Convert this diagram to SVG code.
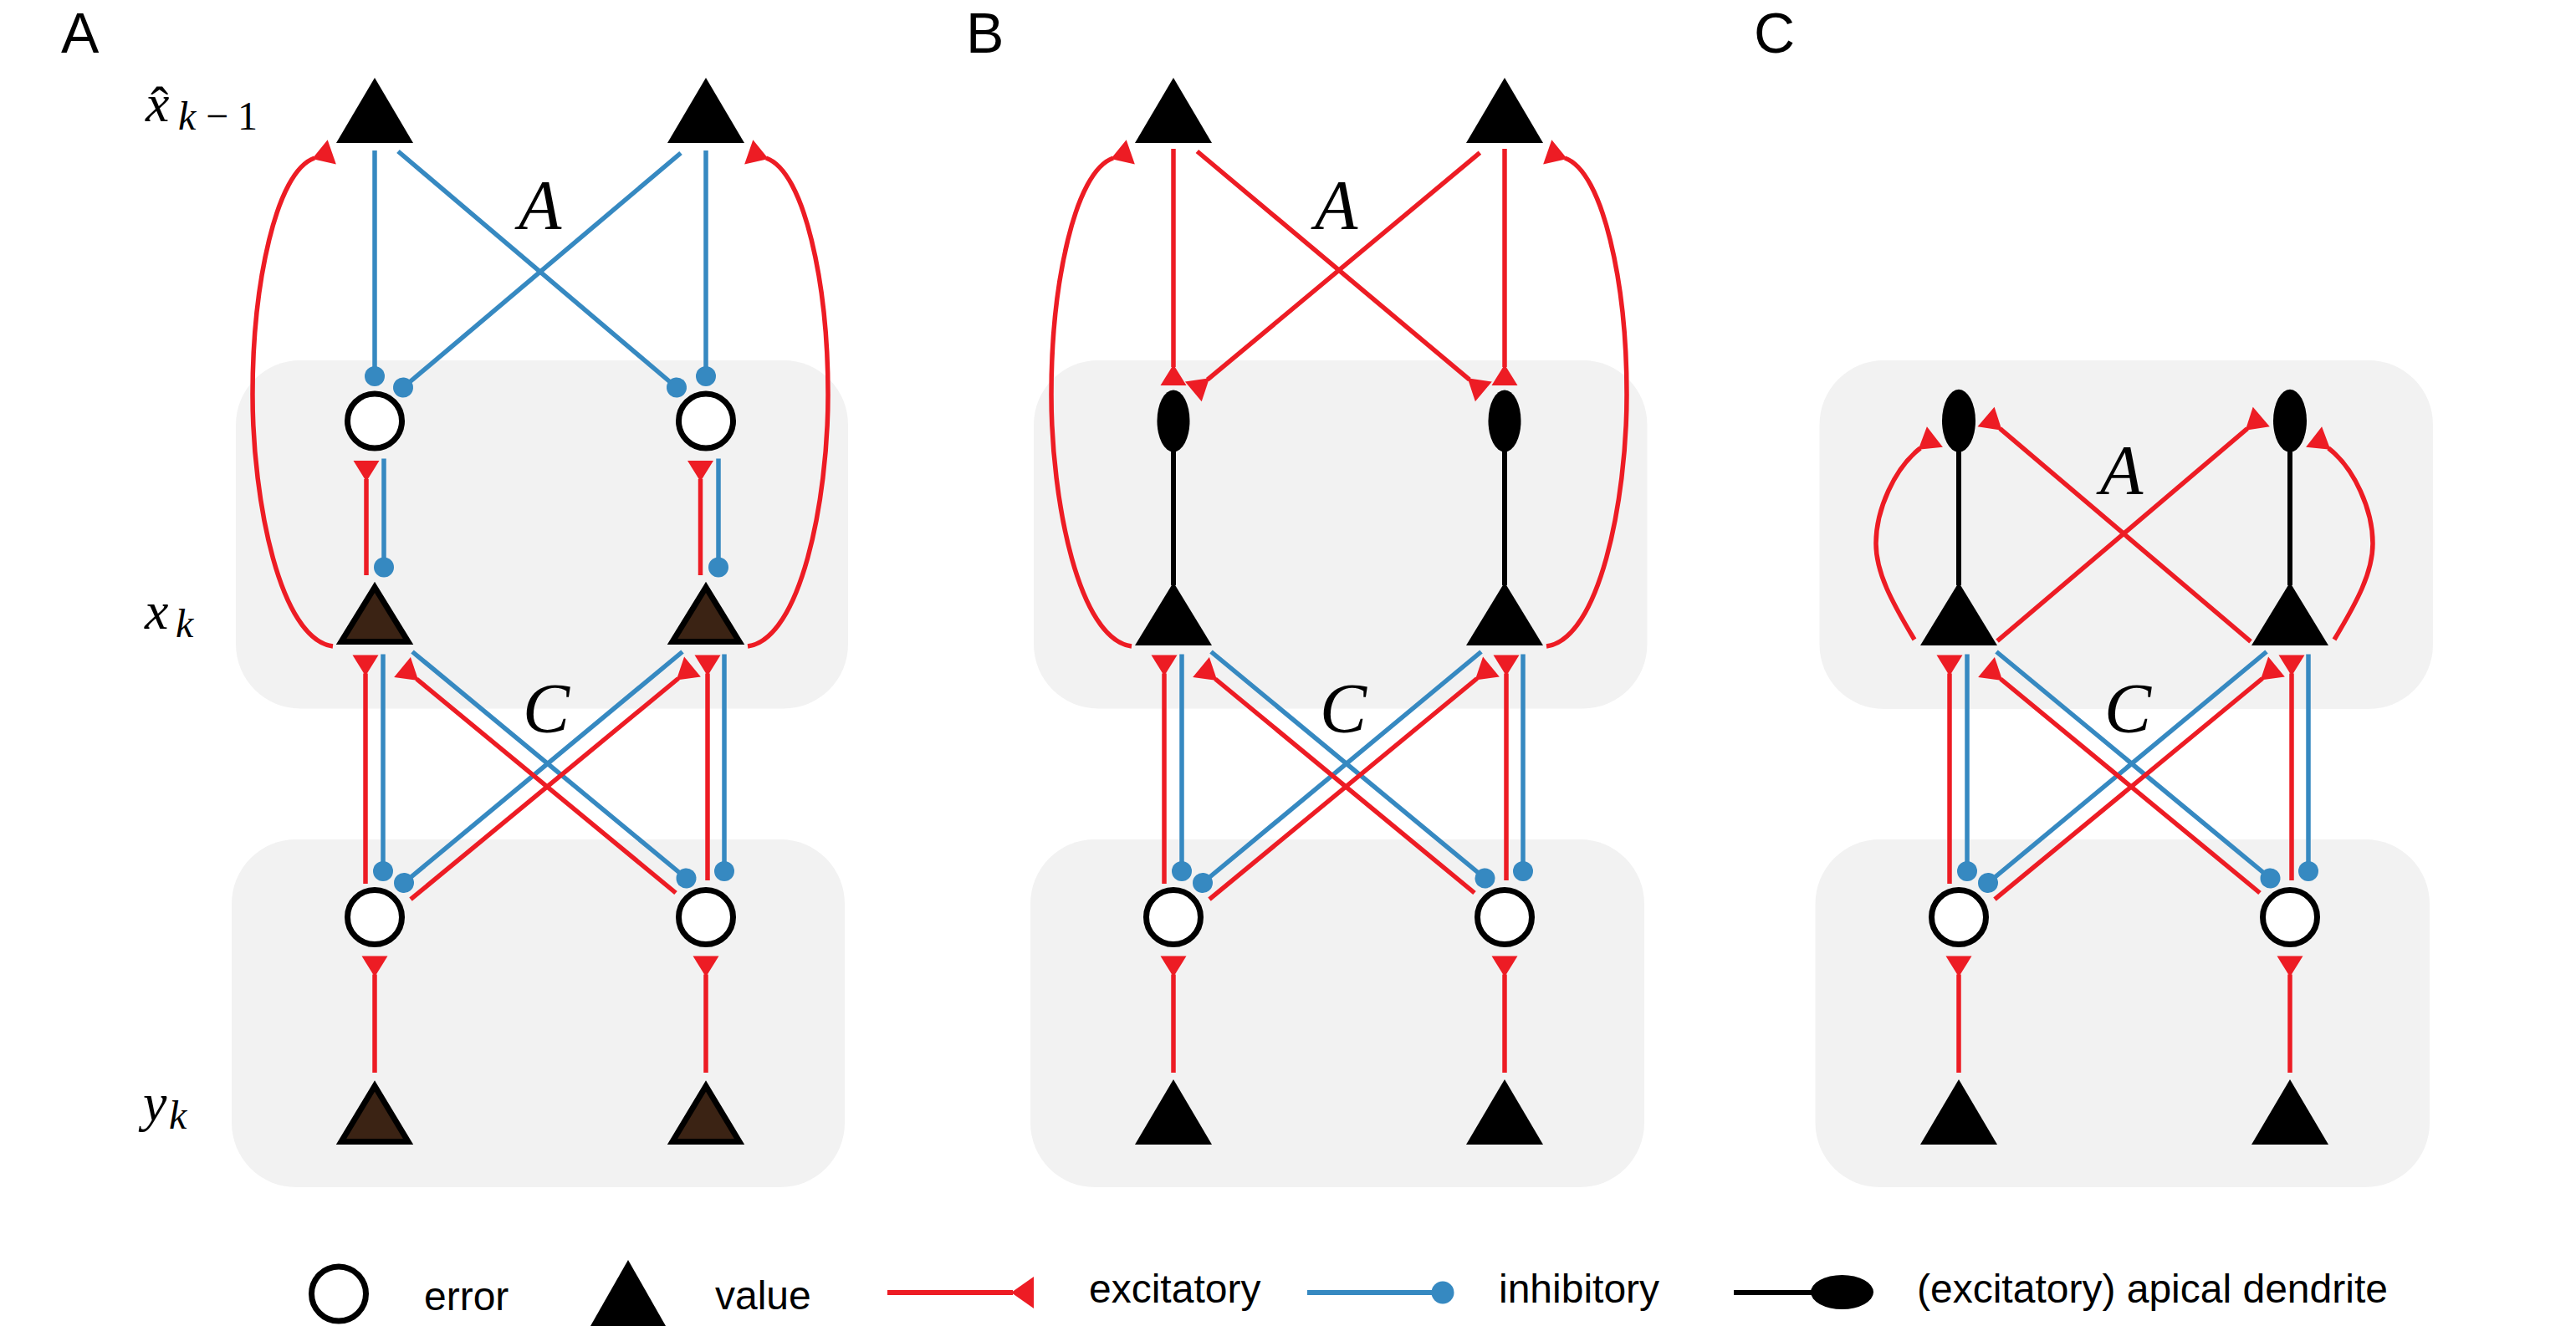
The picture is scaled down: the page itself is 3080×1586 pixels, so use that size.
<svg xmlns="http://www.w3.org/2000/svg" width="3080" height="1586" viewBox="0 0 3080 1586">
<style>
.box{fill:#f2f2f2}
.ex{stroke:#ed1c24;stroke-width:5.5;fill:none;marker-end:url(#exc)}
.in{stroke:#3689c1;stroke-width:5.5;fill:none;marker-end:url(#inh)}
.err{fill:#fff;stroke:#000;stroke-width:7}
.val{fill:#000}
.valb{fill:#3b2314;stroke:#000;stroke-width:7}
.den{stroke:#000;stroke-width:6}
.ap{fill:#000}
.sans{font-family:"Liberation Sans",Arial,sans-serif;fill:#000}
.math{font-family:"Liberation Serif","Times New Roman",serif;font-style:italic;fill:#000}
.rm{font-family:"Liberation Serif","Times New Roman",serif;font-style:normal;fill:#000}
</style>
<defs>
<marker id="exc" markerUnits="userSpaceOnUse" markerWidth="30" markerHeight="34" viewBox="0 -17 30 34" refX="3" refY="0" orient="auto"><path d="M0,0 L25,-15.5 L25,15.5 Z" fill="#ed1c24"/></marker>
<marker id="inh" markerUnits="userSpaceOnUse" markerWidth="28" markerHeight="28" viewBox="-14 -14 28 28" refX="0" refY="0" orient="auto"><circle r="12" fill="#3689c1"/></marker>
<marker id="excL" markerUnits="userSpaceOnUse" markerWidth="32" markerHeight="42" viewBox="0 -21 32 42" refX="2" refY="0" orient="auto"><path d="M0,0 L27,-19 L27,19 Z" fill="#ed1c24"/></marker>
<marker id="inhL" markerUnits="userSpaceOnUse" markerWidth="30" markerHeight="30" viewBox="-15 -15 30 30" refX="0" refY="0" orient="auto"><circle r="13.5" fill="#3689c1"/></marker>
</defs>
<rect width="3080" height="1586" fill="#fff"/>

<g id="layers">
<rect class="box" x="282" y="431" width="732" height="416.5" rx="77" ry="77"/>
<rect class="box" x="277" y="1004" width="733" height="416" rx="77" ry="77"/>
<rect class="box" x="1236" y="431" width="733.5" height="416.5" rx="77" ry="77"/>
<rect class="box" x="1232" y="1004" width="734" height="416" rx="77" ry="77"/>
<rect class="box" x="2175.5" y="431" width="733.5" height="417" rx="77" ry="77"/>
<rect class="box" x="2170.5" y="1004" width="734.5" height="416" rx="77" ry="77"/>
</g>

<g id="connectors">
<!-- Panel A top -->
<path class="in" d="M448,180 V450"/>
<path class="in" d="M844,180 V450"/>
<path class="in" d="M476,181 L809,463.5"/>
<path class="in" d="M814,183 L482,463.5"/>
<path class="ex" d="M398,773 C335,765 302,600 302,472 C302,340 330,205 376,189"/>
<path class="ex" d="M894,773 C957,765 990,600 990,472 C990,340 962,205 916,189"/>
<path class="ex" d="M438,688 V573"/>
<path class="ex" d="M837.5,688 V573"/>
<path class="in" d="M459,548.5 V678.5"/>
<path class="in" d="M859,548.5 V678.5"/>
<!-- Panel A bottom -->
<path class="ex" d="M437,1057 V805.5"/>
<path class="ex" d="M846,1053 V805.5"/>
<path class="in" d="M458,782.5 V1042"/>
<path class="in" d="M866,782.5 V1042"/>
<path class="in" d="M493,779.5 L820.5,1050.5"/>
<path class="in" d="M816,779.5 L483,1056"/>
<path class="ex" d="M808,1068 L498,812"/>
<path class="ex" d="M491,1075.7 L811,811.5"/>
<path class="ex" d="M448,1283 V1165.5"/>
<path class="ex" d="M844,1283 V1165.5"/>

<!-- Panel B top -->
<path class="ex" d="M1403,178 V439"/>
<path class="ex" d="M1799,178 V439"/>
<path class="ex" d="M1431.4,181 L1757,454.2"/>
<path class="ex" d="M1769.4,182.7 L1443.7,454.2"/>
<path class="ex" d="M1353,773 C1290,765 1257,600 1257,472 C1257,340 1285,205 1331,189"/>
<path class="ex" d="M1849,773 C1912,765 1945,600 1945,472 C1945,340 1917,205 1871,189"/>
<line class="den" x1="1403" y1="535" x2="1403" y2="700"/>
<line class="den" x1="1799" y1="535" x2="1799" y2="700"/>
<!-- Panel B bottom -->
<path class="ex" d="M1392,1057 V805.5"/>
<path class="ex" d="M1801,1053 V805.5"/>
<path class="in" d="M1413,782.5 V1042"/>
<path class="in" d="M1821,782.5 V1042"/>
<path class="in" d="M1448,779.5 L1775.5,1050.5"/>
<path class="in" d="M1771,779.5 L1438,1056"/>
<path class="ex" d="M1763,1068 L1453,812"/>
<path class="ex" d="M1446,1075.7 L1766,811.5"/>
<path class="ex" d="M1403,1283 V1165.5"/>
<path class="ex" d="M1799,1283 V1165.5"/>

<!-- Panel C top -->
<path class="ex" d="M2289,765 C2262,720 2243,685 2243,650 C2243,610 2265,560 2296,536"/>
<path class="ex" d="M2791,765 C2818,720 2837,685 2837,650 C2837,610 2815,560 2784,536"/>
<path class="ex" d="M2388,766.7 L2687,512.7"/>
<path class="ex" d="M2691,767.3 L2391.3,512.7"/>
<line class="den" x1="2342" y1="535" x2="2342" y2="700"/>
<line class="den" x1="2738" y1="535" x2="2738" y2="700"/>
<!-- Panel C bottom -->
<path class="ex" d="M2331,1057 V805.5"/>
<path class="ex" d="M2740,1053 V805.5"/>
<path class="in" d="M2352,782.5 V1042"/>
<path class="in" d="M2760,782.5 V1042"/>
<path class="in" d="M2387,779.5 L2714.5,1050.5"/>
<path class="in" d="M2710,779.5 L2377,1056"/>
<path class="ex" d="M2702,1068 L2392,812"/>
<path class="ex" d="M2385,1075.7 L2705,811.5"/>
<path class="ex" d="M2342,1283 V1165.5"/>
<path class="ex" d="M2738,1283 V1165.5"/>
</g>

<!-- Panel A nodes -->
<g id="A-xhat-1"><polygon class="val" points="448,93 402,171 494,171"/></g>
<g id="A-xhat-2"><polygon class="val" points="844,93 798,171 890,171"/></g>
<g id="A-err-x1"><circle class="err" cx="448" cy="503.5" r="32.5"/></g>
<g id="A-err-x2"><circle class="err" cx="844" cy="503.5" r="32.5"/></g>
<g id="A-x1"><polygon class="valb" points="448,702.5 408,767.5 488,767.5"/></g>
<g id="A-x2"><polygon class="valb" points="844,702.5 804,767.5 884,767.5"/></g>
<g id="A-err-y1"><circle class="err" cx="448" cy="1097" r="32.5"/></g>
<g id="A-err-y2"><circle class="err" cx="844" cy="1097" r="32.5"/></g>
<g id="A-y1"><polygon class="valb" points="448,1299 408,1365.5 488,1365.5"/></g>
<g id="A-y2"><polygon class="valb" points="844,1299 804,1365.5 884,1365.5"/></g>

<!-- Panel B nodes -->
<g id="B-xhat-1"><polygon class="val" points="1403,93 1357,171 1449,171"/></g>
<g id="B-xhat-2"><polygon class="val" points="1799,93 1753,171 1845,171"/></g>
<g id="B-apical-1"><ellipse class="ap" cx="1403" cy="503.5" rx="19.5" ry="37"/></g>
<g id="B-apical-2"><ellipse class="ap" cx="1799" cy="503.5" rx="19.5" ry="37"/></g>
<g id="B-x1"><polygon class="val" points="1403,696.5 1357,772 1449,772"/></g>
<g id="B-x2"><polygon class="val" points="1799,696.5 1753,772 1845,772"/></g>
<g id="B-err-y1"><circle class="err" cx="1403" cy="1097" r="32.5"/></g>
<g id="B-err-y2"><circle class="err" cx="1799" cy="1097" r="32.5"/></g>
<g id="B-y1"><polygon class="val" points="1403,1291 1357,1369 1449,1369"/></g>
<g id="B-y2"><polygon class="val" points="1799,1291 1753,1369 1845,1369"/></g>

<!-- Panel C nodes -->
<g id="C-apical-1"><ellipse class="ap" cx="2342" cy="503.3" rx="20" ry="37.5"/></g>
<g id="C-apical-2"><ellipse class="ap" cx="2738" cy="503.3" rx="20" ry="37.5"/></g>
<g id="C-x1"><polygon class="val" points="2342,696.5 2296,772 2388,772"/></g>
<g id="C-x2"><polygon class="val" points="2738,696.5 2692,772 2784,772"/></g>
<g id="C-err-y1"><circle class="err" cx="2342" cy="1097" r="32.5"/></g>
<g id="C-err-y2"><circle class="err" cx="2738" cy="1097" r="32.5"/></g>
<g id="C-y1"><polygon class="val" points="2342,1291 2296,1369 2388,1369"/></g>
<g id="C-y2"><polygon class="val" points="2738,1291 2692,1369 2784,1369"/></g>

<g id="labels">
<text class="sans" x="73" y="63" font-size="68">A</text>
<text class="sans" x="1155" y="63" font-size="68">B</text>
<text class="sans" x="2097" y="63" font-size="68">C</text>

<text class="math" x="174" y="145" font-size="64">x</text>
<text class="rm" x="180" y="148" font-size="64">ˆ</text>
<text class="math" x="213" y="155" font-size="48">k</text>
<text class="rm" x="246" y="155" font-size="48">−</text>
<text class="rm" x="284" y="155" font-size="48">1</text>

<text class="math" x="173" y="752" font-size="64">x</text>
<text class="math" x="210" y="762" font-size="48">k</text>

<text class="math" x="171" y="1340" font-size="64">y</text>
<text class="math" x="202" y="1350" font-size="48">k</text>

<text class="math" x="620" y="274" font-size="84">A</text>
<text class="math" x="1572" y="274" font-size="84">A</text>
<text class="math" x="2511" y="591" font-size="84">A</text>
<text class="math" x="625" y="876" font-size="84">C</text>
<text class="math" x="1578" y="876" font-size="84">C</text>
<text class="math" x="2516" y="876" font-size="84">C</text>
</g>

<g id="legend">
<g id="legend-error"><circle class="err" cx="405" cy="1547.5" r="32.5"/><text class="sans" x="507" y="1567" font-size="48">error</text></g>
<g id="legend-value"><polygon class="val" points="751,1507 706,1586 796,1586"/><text class="sans" x="855" y="1566" font-size="48">value</text></g>
<g id="legend-exc"><line x1="1061" y1="1546" x2="1211" y2="1546" stroke="#ed1c24" stroke-width="6" marker-end="url(#excL)"/><text class="sans" x="1302" y="1558" font-size="48">excitatory</text></g>
<g id="legend-inh"><line x1="1563" y1="1546" x2="1725" y2="1546" stroke="#3689c1" stroke-width="6" marker-end="url(#inhL)"/><text class="sans" x="1792" y="1558" font-size="48">inhibitory</text></g>
<g id="legend-apical"><line x1="2073" y1="1546" x2="2171" y2="1546" stroke="#000" stroke-width="6"/><ellipse class="ap" cx="2202.5" cy="1545.5" rx="37.5" ry="20.5"/><text class="sans" x="2292" y="1558" font-size="48">(excitatory) apical dendrite</text></g>
</g>
</svg>
